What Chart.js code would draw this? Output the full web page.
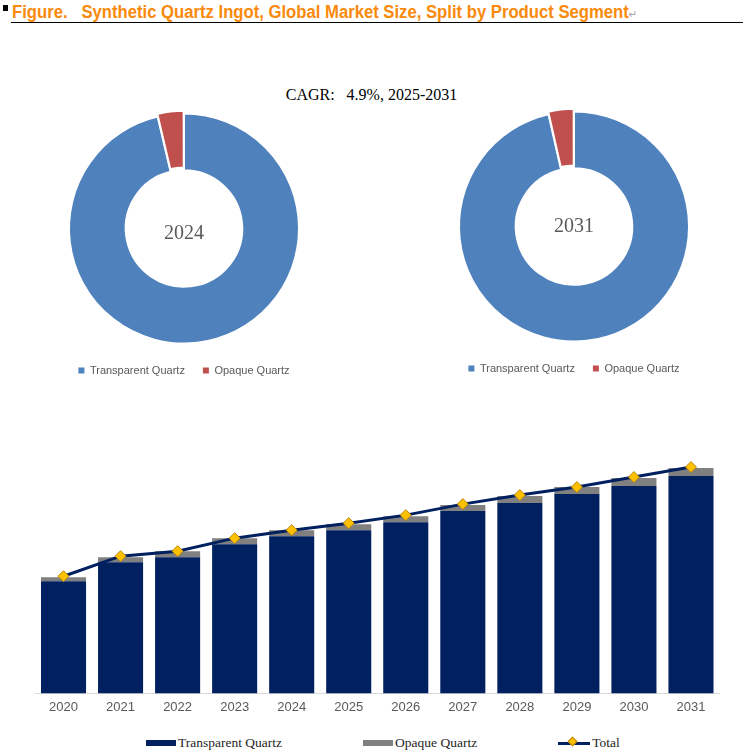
<!DOCTYPE html>
<html>
<head>
<meta charset="utf-8">
<script src="https://cdn.jsdelivr.net/npm/chart.js@4.4.1/dist/chart.umd.min.js"></script>
<style>
  body { margin: 0; background: #fff; width: 743px; height: 756px; position: relative; overflow: hidden; font-family: "Liberation Sans", Arial, sans-serif; }
  canvas { position: absolute; }
  .title { position: absolute; left: 12px; top: 2px; font: bold 18px "Liberation Sans Narrow", "Arial Narrow", sans-serif; color: #F98A0C; white-space: pre; transform: scaleX(0.926); transform-origin: left top; }
  .title .mark { font: 11px "DejaVu Sans", sans-serif; color: #A6A6A6; }
  .bullet { position: absolute; left: 3px; top: 5px; width: 5px; height: 6px; background: #000; }
  .rule { position: absolute; left: 11px; right: 0; top: 22px; border-top: 1px solid #000; }
  .cagr { position: absolute; left: 0; width: 743px; top: 86px; text-align: center; font: 16px "Liberation Serif", serif; color: #000; white-space: pre; }
  #barLegend { position: absolute; left: 146px; top: 735px; display: flex; align-items: center; gap: 81px; font: 13.5px "Liberation Serif", serif; color: #262626; }
  #barLegend .item { display: flex; align-items: center; gap: 2px; }
  #barLegend .box { width: 30px; height: 6px; }
  #barLegend .line { width: 32px; height: 3px; position: relative; }
  #barLegend .dia { position: absolute; left: 11px; top: -3.5px; width: 7px; height: 7px; transform: rotate(45deg); border: 1px solid #B8860B; box-sizing: border-box; }
</style>
</head>
<body>
<div class="bullet"></div>
<div class="title">Figure.   Synthetic Quartz Ingot, Global Market Size, Split by Product Segment<span class="mark">↵</span></div>
<div class="rule"></div>
<div class="cagr">CAGR:   4.9%, 2025-2031</div>
<canvas id="donut1" width="368" height="276" style="left:0;top:110px"></canvas>
<canvas id="donut2" width="368" height="276" style="left:390px;top:108px"></canvas>
<canvas id="bars" width="743" height="306" style="left:0;top:420px"></canvas>
<div id="barLegend"></div>
<script>
// market size by year (relative units)
const years = ['2020', '2021', '2022', '2023', '2024', '2025', '2026', '2027', '2028', '2029', '2030', '2031'];
const transparent = [112, 131, 136, 149, 157, 163, 171, 182, 190, 199, 207, 217];
const opaque = [4, 5, 6, 6, 6, 6, 6, 6, 7, 7, 8, 8];
const totals = [117, 137, 142, 155, 163, 170, 178, 189, 198, 206, 216, 226];
const segments = ['Transparent Quartz', 'Opaque Quartz'];
const donutYears = ['2024', '2031'];

const pieColors = ['#4F81BD', '#C0504D'];
const navy = '#002060';
const grey = '#808080';
const gold = '#FFC000';

// text in the hole of the doughnut
const centerLabel = {
  id: 'centerLabel',
  afterDraw(chart, args, opts) {
    const a = chart.chartArea;
    const ctx = chart.ctx;
    ctx.save();
    ctx.font = '20px "Liberation Serif", serif';
    ctx.fillStyle = '#595959';
    ctx.textAlign = 'center';
    ctx.textBaseline = 'middle';
    ctx.fillText(opts.text, (a.left + a.right) / 2, (a.top + a.bottom) / 2 + (opts.dy || 0));
    ctx.restore();
  }
};

function makeDonut(id, year, dy) {
  const i = years.indexOf(year);
  new Chart(document.getElementById(id), {
    type: 'doughnut',
    data: {
      labels: segments,
      datasets: [{
        data: [transparent[i], opaque[i]],
        backgroundColor: pieColors,
        borderColor: '#fff',
        borderWidth: 2,
        offset: [0, 6]
      }]
    },
    options: {
      responsive: false,
      animation: false,
      radius: 115,
      cutout: 58,
      plugins: {
        legend: {
          position: 'bottom',
          labels: {
            boxWidth: 6,
            boxHeight: 6,
            padding: 18,
            color: '#595959',
            font: { size: 11, family: '"Liberation Sans", Arial, sans-serif' },
            generateLabels: chart => Chart.overrides.doughnut.plugins.legend.labels.generateLabels(chart)
              .map(l => Object.assign(l, { lineWidth: 0 }))
          }
        },
        tooltip: { enabled: false },
        centerLabel: { text: year, dy: dy }
      }
    },
    plugins: [centerLabel]
  });
}

makeDonut('donut1', donutYears[0], 5);
makeDonut('donut2', donutYears[1], 0);

new Chart(document.getElementById('bars'), {
  type: 'bar',
  data: {
    labels: years,
    datasets: [
      { type: 'line', label: 'Total', data: totals, stack: 'total', order: 0,
        borderColor: navy, borderWidth: 3, tension: 0,
        pointStyle: 'rectRot', pointRadius: 5.5, pointBackgroundColor: gold,
        pointBorderColor: '#B8860B', pointBorderWidth: 1 },
      { label: segments[0], data: transparent, backgroundColor: navy, stack: 'seg', order: 1 },
      { label: segments[1], data: opaque, backgroundColor: grey, stack: 'seg', order: 1 }
    ]
  },
  options: {
    responsive: false,
    animation: false,
    layout: { padding: { left: 35, right: 23.5, top: 13, bottom: 5 } },
    datasets: { bar: { barPercentage: 0.79, categoryPercentage: 1 } },
    scales: {
      x: {
        stacked: true,
        grid: { display: false, drawTicks: false },
        border: { color: '#D9D9D9' },
        ticks: { color: '#595959', padding: 6, font: { size: 13, family: '"Liberation Sans", Arial, sans-serif' } }
      },
      y: { stacked: true, display: false, min: 0, max: 260 }
    },
    plugins: { legend: { display: false }, tooltip: { enabled: false } }
  }
});

// legend under the bars
const legendItems = [
  { label: segments[0], kind: 'box', color: navy },
  { label: segments[1], kind: 'box', color: grey },
  { label: 'Total', kind: 'line', color: navy }
];
const lg = document.getElementById('barLegend');
legendItems.forEach(it => {
  const el = document.createElement('div');
  el.className = 'item';
  const mark = document.createElement('span');
  if (it.kind === 'box') {
    mark.className = 'box';
    mark.style.background = it.color;
  } else {
    mark.className = 'line';
    mark.style.background = it.color;
    const d = document.createElement('span');
    d.className = 'dia';
    d.style.background = gold;
    mark.appendChild(d);
  }
  const t = document.createElement('span');
  t.textContent = it.label;
  el.appendChild(mark);
  el.appendChild(t);
  lg.appendChild(el);
});
</script>
</body>
</html>
